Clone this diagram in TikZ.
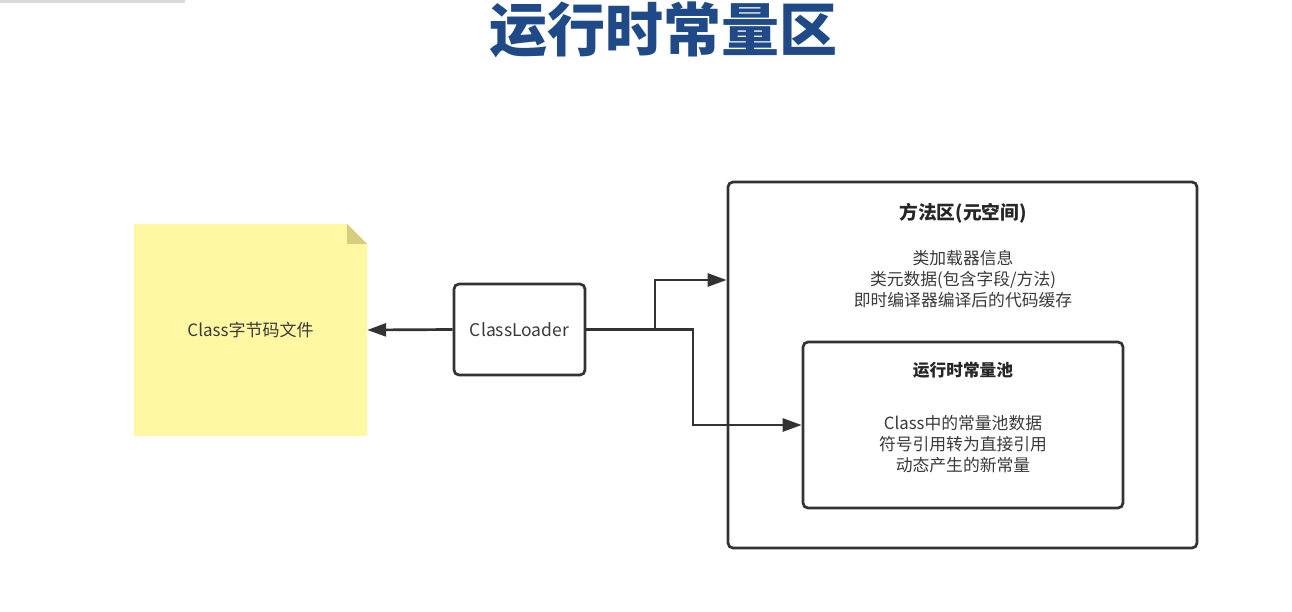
\documentclass[tikz,border=0pt]{standalone}
\usepackage{fontspec}
\setmainfont{Noto Sans CJK SC}
\usetikzlibrary{arrows.meta,calc}
\definecolor{ln}{HTML}{333333}
\definecolor{txt}{HTML}{3A3A3A}
\definecolor{ttl}{HTML}{1F4A87}
\definecolor{note}{HTML}{FFF7A1}
\definecolor{fold}{HTML}{D6CD7E}
\begin{document}
\begin{tikzpicture}[x=1pt,y=-1pt,
  box/.style={draw=ln,line width=2.7pt,rounded corners=5pt,inner sep=0pt},
  arr/.style={draw=ln,line width=2.7pt,-{Triangle[length=19pt,width=13pt]}},
  body/.style={text=txt,font=\fontsize{16.8}{21}\selectfont,align=center,inner sep=0pt},
  head/.style={text=black!85,font=\fontsize{18.7}{22}\selectfont\bfseries,inner sep=0pt}]
\useasboundingbox[fill=white] (0,0) rectangle (1292,612);
\fill[gray!30] (0,0) rectangle (185,3);
% title
\node[text=ttl,font=\fontsize{58}{62}\selectfont\bfseries,inner sep=0pt] (title) at (663,30) {运行时常量区};
% note
\fill[note] (134,224) -- (347,224) -- (367,244) -- (367,436) -- (134,436) -- cycle;
\fill[fold] (347,224) -- (367,244) -- (347,244) -- cycle;
\node[minimum width=233pt,minimum height=212pt,inner sep=0pt,text=txt,font=\fontsize{17}{20}\selectfont] (note) at (250.5,330) {Class字节码文件};
% classloader
\node[box,minimum width=131pt,minimum height=91pt,text=txt,font=\fontsize{17.5}{20}\selectfont] (cl) at (519.5,329.5) {ClassLoader};
% method area
\node[box,minimum width=469pt,minimum height=366pt] (ma) at (962.5,365) {};
\node[head] (mat) at (963,213) {方法区(元空间)};
\node[body] (mab) at (963,279) {类加载器信息\\类元数据(包含字段/方法)\\即时编译器编译后的代码缓存};
% runtime constant pool
\node[box,minimum width=320pt,minimum height=166pt] (rcp) at (963,425) {};
\node[head,font=\fontsize{16.7}{21}\selectfont\bfseries] (rcpt) at (963,370) {运行时常量池};
\node[body] (rcpb) at (963,444) {Class中的常量池数据\\符号引用转为直接引用\\动态产生的新常量};
% connectors
\coordinate (maIn) at (ma.west |- 0,280);
\coordinate (j1) at (655,329.5);
\coordinate (j2) at (693,329.5);
\draw[arr] (cl.west) -- (note.east);
\draw[arr] (cl.east) -- (j1) |- (maIn);
\draw[arr] (cl.east) -- (j2) |- (rcp.west);
\end{tikzpicture}
\end{document}
